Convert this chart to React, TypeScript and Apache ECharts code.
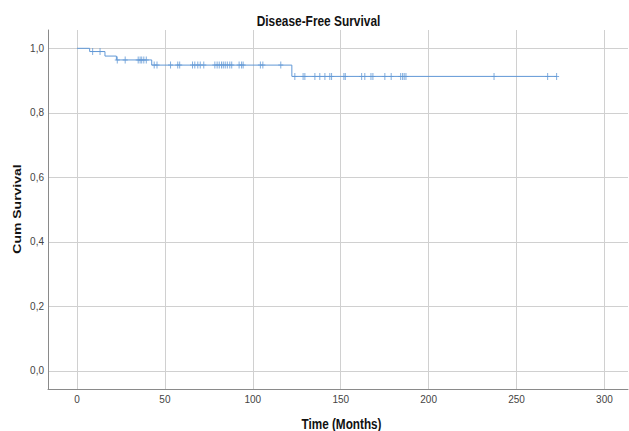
import React, { useEffect, useRef } from "react";
import * as echarts from "echarts";

// Kaplan-Meier step curve: times where the curve drops, and survival after each drop
const eventTimes = [0, 7.2, 15.9, 22.4, 42.5, 122.2, 273.0];
const survival = [1.0, 0.99, 0.976, 0.964, 0.948, 0.913, 0.913];

// Censored observations (months)
const censorTimes = [
  8.9, 13.1,
  22.9, 27.4, 34.8, 35.9, 36.8, 38.0, 39.4,
  43.9, 45.5, 53.2, 57.3, 58.4, 65.7, 67.0, 68.7, 70.1, 72.1, 78.4, 79.7, 80.9,
  82.2, 83.2, 84.3, 85.5, 86.9, 88.0, 92.2, 93.6, 94.5, 104.3, 105.7, 115.9,
  123.9, 128.6, 129.6, 135.3, 138.1, 141.0, 143.8, 144.8, 151.8, 152.6, 161.9,
  163.7, 167.2, 168.3, 175.1, 178.7, 184.1, 185.2, 186.1, 187.1, 237.2, 267.7, 272.8,
];

const xTicks = [0, 50, 100, 150, 200, 250, 300];
const yTicks = [0, 0.2, 0.4, 0.6, 0.8, 1.0];

const LINE = "#6198d6";

function survAt(t: number): number {
  let s = survival[0];
  for (let i = 0; i < eventTimes.length - 1; i++) {
    if (eventTimes[i] <= t) s = survival[i];
  }
  return s;
}

export default function App() {
  const ref = useRef<HTMLDivElement>(null);
  useEffect(() => {
    if (!ref.current) return;
    const chart = echarts.init(ref.current, null, { renderer: "svg" });
    const curve = eventTimes.map((t, i) => [t, survival[i]]);
    const censors = censorTimes.map((t) => [t, survAt(t)]);
    chart.setOption({
      animation: false,
      backgroundColor: "#ffffff",
      grid: { left: 48, right: 1, top: 30, bottom: 42 },
      xAxis: {
        type: "value",
        min: -16.5,
        max: 313.4,
        axisLine: { show: true, onZero: false, lineStyle: { color: "#8a8a8a", width: 1 } },
        axisTick: { show: false, customValues: xTicks },
        axisLabel: {
          customValues: xTicks,
          color: "#444",
          fontSize: 10,
          fontFamily: "'Liberation Sans Narrow', 'Liberation Sans', Arial, sans-serif",
          margin: 5,
          formatter: (v: number) => String(Math.round(v)),
        },
        splitLine: { show: true, lineStyle: { color: "#d0d0d0", width: 1 } },
      },
      yAxis: {
        type: "value",
        min: -0.0558,
        max: 1.0568,
        axisLine: { show: true, onZero: false, lineStyle: { color: "#8a8a8a", width: 1 } },
        axisTick: { show: false, customValues: yTicks },
        axisLabel: {
          customValues: yTicks,
          color: "#444",
          fontSize: 10,
          fontFamily: "'Liberation Sans Narrow', 'Liberation Sans', Arial, sans-serif",
          margin: 4,
          formatter: (v: number) => v.toFixed(1).replace(".", ","),
        },
        splitLine: { show: true, lineStyle: { color: "#d0d0d0", width: 1 } },
      },
      graphic: [
        {
          type: "text",
          x: 318.5,
          y: 21,
          scaleX: 0.85,
          style: {
            text: "Disease-Free Survival",
            font: "bold 14px 'Liberation Sans', Arial, sans-serif",
            fill: "#111",
            textAlign: "center",
            textVerticalAlign: "middle",
          },
        },
        {
          type: "text",
          x: 341.5,
          y: 424,
          scaleX: 0.84,
          style: {
            text: "Time (Months)",
            font: "bold 14px 'Liberation Sans', Arial, sans-serif",
            fill: "#111",
            textAlign: "center",
            textVerticalAlign: "middle",
          },
        },
        {
          type: "text",
          x: 17,
          y: 209,
          rotation: Math.PI / 2,
          scaleY: 0.84,
          style: {
            text: "Cum Survival",
            font: "bold 14px 'Liberation Sans', Arial, sans-serif",
            fill: "#111",
            textAlign: "center",
            textVerticalAlign: "middle",
          },
        },
      ],
      series: [
        {
          type: "line",
          step: "end",
          data: curve,
          showSymbol: false,
          symbol: "none",
          lineStyle: { color: LINE, width: 1 },
          silent: true,
          z: 2,
        },
        {
          type: "scatter",
          data: censors,
          symbol: "path://M-0.5,-3.5h1v7h-1zM-2.5,-0.5h5v1h-5z",
          symbolSize: [5, 7],
          itemStyle: { color: LINE },
          silent: true,
          z: 3,
        },
      ],
    });
    return () => chart.dispose();
  }, []);
  return (
    <div
      ref={ref}
      style={{ position: "fixed", left: 0, top: 0, width: 629, height: 431, background: "#fff" }}
    />
  );
}
